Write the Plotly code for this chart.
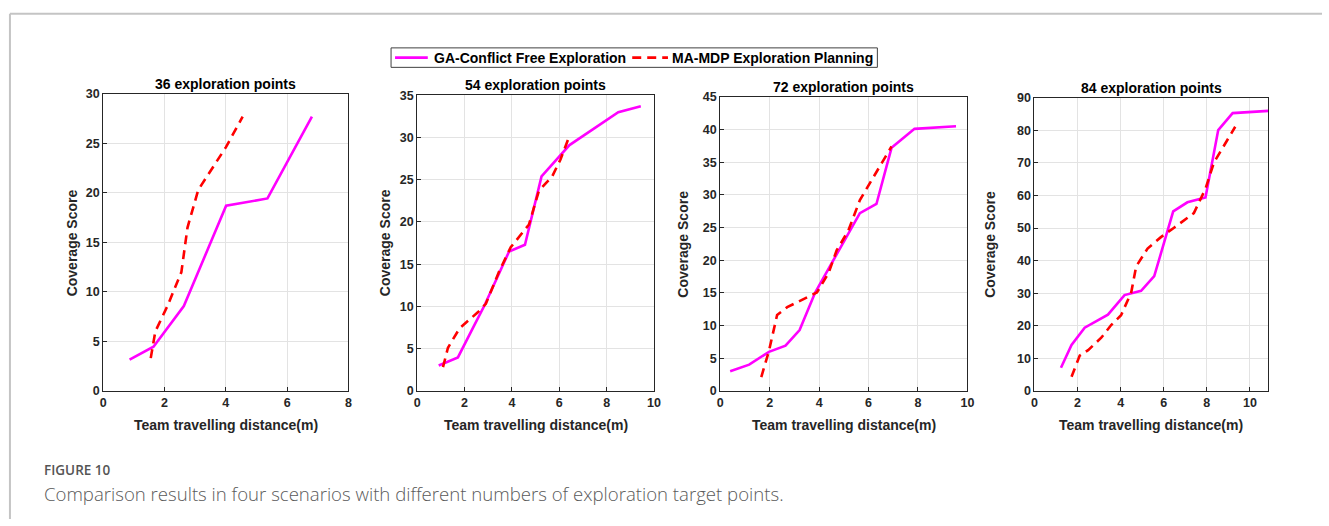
import plotly.graph_objects as go

# ---- data: team travelling distance (m) vs coverage score ----
titles = ["36 exploration points", "54 exploration points",
          "72 exploration points", "84 exploration points"]
series_names = ["GA-Conflict Free Exploration", "MA-MDP Exploration Planning"]

ga_x_36 = [0.86, 1.64, 2.63, 4.01, 5.36, 6.81]
ga_y_36 = [3.15, 4.46, 8.56, 18.7, 19.44, 27.7]
mdp_x_36 = [1.55, 1.7, 2.1, 2.55, 2.75, 3.1, 4.0, 4.55]
mdp_y_36 = [3.3, 6.0, 8.6, 12.0, 16.5, 20.3, 24.6, 27.7]

ga_x_54 = [0.91, 1.25, 1.72, 2.42, 2.84, 3.88, 4.55, 5.25, 6.43, 8.49, 9.44]
ga_y_54 = [3.0, 3.4, 3.96, 7.8, 10.1, 16.5, 17.3, 25.4, 29.1, 33.0, 33.7]
mdp_x_54 = [1.09, 1.3, 1.79, 2.56, 2.9, 3.47, 3.95, 4.72, 5.14, 5.7, 6.05, 6.43]
mdp_y_54 = [2.8, 5.1, 7.4, 9.3, 10.3, 14.2, 17.0, 19.7, 23.7, 25.4, 27.4, 30.2]

ga_x_72 = [0.4, 1.17, 1.97, 2.64, 3.21, 3.84, 5.65, 6.32, 6.93, 7.86, 9.54]
ga_y_72 = [3.0, 4.0, 5.96, 6.9, 9.3, 15.05, 27.2, 28.6, 37.2, 40.1, 40.5]
mdp_x_72 = [1.66, 1.97, 2.3, 2.71, 3.91, 4.38, 4.71, 5.18, 5.65, 6.93]
mdp_y_72 = [2.1, 6.1, 11.6, 12.8, 15.05, 18.0, 21.5, 24.5, 29.2, 37.4]

ga_x_84 = [1.23, 1.72, 2.33, 3.41, 4.18, 4.95, 5.56, 6.44, 7.1, 7.94, 8.53, 9.2, 10.86]
ga_y_84 = [7.1, 14.06, 19.4, 23.4, 29.4, 30.7, 35.2, 55.1, 57.9, 59.4, 80.1, 85.3, 86.0]
mdp_x_84 = [1.72, 2.1, 2.49, 3.1, 3.56, 4.02, 4.49, 4.72, 5.25, 5.87, 6.48, 7.4, 7.94, 8.33, 9.32]
mdp_y_84 = [4.3, 10.8, 12.5, 16.3, 20.2, 23.2, 30.2, 38.2, 43.7, 47.2, 50.1, 54.6, 62.1, 70.1, 81.1]

ga_x = [ga_x_36, ga_x_54, ga_x_72, ga_x_84]
ga_y = [ga_y_36, ga_y_54, ga_y_72, ga_y_84]
mdp_x = [mdp_x_36, mdp_x_54, mdp_x_72, mdp_x_84]
mdp_y = [mdp_y_36, mdp_y_54, mdp_y_72, mdp_y_84]

x_ranges = [[0, 8], [0, 10], [0, 10], [0, 10.86]]
y_ranges = [[0, 30], [0, 35], [0, 45], [0, 90]]
y_dticks = [5, 5, 5, 10]

# ---- page geometry (pixels) ----
W, H = 1329, 526


def xp(px):
    return px / W


def yp(py):
    return 1 - py / H


panel_px = [  # left, right, top, bottom
    (101, 348, 89.3, 394.3),
    (417.3, 656, 90.7, 394.3),
    (722.7, 971.7, 92.3, 394.3),
    (1039.3, 1275, 93.3, 394.3),
]
ylabel_x = [69.5, 385, 685, 995]

FONT = "Liberation Sans, Arial, sans-serif"
TXT = "#262626"
GA_COLOR = "#ff00ff"
MDP_COLOR = "#ff0000"
LINE_W = 2.6
DASH = "9px,6px"

fig = go.Figure()

for i in range(4):
    xa = "x" if i == 0 else f"x{i+1}"
    ya = "y" if i == 0 else f"y{i+1}"
    fig.add_trace(go.Scatter(
        x=ga_x[i], y=ga_y[i], mode="lines", xaxis=xa, yaxis=ya,
        name=series_names[0], showlegend=False,
        line=dict(color=GA_COLOR, width=LINE_W)))
    fig.add_trace(go.Scatter(
        x=mdp_x[i], y=mdp_y[i], mode="lines", xaxis=xa, yaxis=ya,
        name=series_names[1], showlegend=False,
        line=dict(color=MDP_COLOR, width=LINE_W, dash=DASH)))

layout = dict(
    width=W, height=H,
    margin=dict(l=0, r=0, t=0, b=0),
    paper_bgcolor="white", plot_bgcolor="white",
    showlegend=False,
)

annotations = []
shapes = []
for i, (l, r, t, b) in enumerate(panel_px):
    sx = "" if i == 0 else str(i + 1)
    axis_common = dict(
        showline=True, linecolor=TXT, linewidth=1, mirror=True,
        showgrid=True, gridcolor="#e3e3e3", gridwidth=1,
        ticks="inside", ticklen=4, tickcolor=TXT, zeroline=False,
        tickfont=dict(family=FONT, size=12.5, color=TXT, weight="bold"),
    )
    layout[f"xaxis{sx}"] = dict(
        axis_common, domain=[xp(l), xp(r)], range=x_ranges[i],
        dtick=2, tick0=0, anchor=f"y{sx}")
    layout[f"yaxis{sx}"] = dict(
        axis_common, domain=[yp(b), yp(t)], range=y_ranges[i],
        dtick=y_dticks[i], tick0=0, anchor=f"x{sx}")
    cx = (l + r) / 2
    annotations.append(dict(
        text=titles[i], x=xp(cx), y=yp(t - 10.5), xref="paper", yref="paper",
        xanchor="center", yanchor="middle", showarrow=False,
        font=dict(family=FONT, size=14, color="#000000", weight="bold")))
    annotations.append(dict(
        text="Team travelling distance(m)", x=xp(cx), y=yp(429.5),
        xref="paper", yref="paper", xanchor="center", yanchor="middle",
        showarrow=False, font=dict(family=FONT, size=14, color=TXT, weight="bold")))
    annotations.append(dict(
        text="Coverage Score", x=xp(ylabel_x[i]), y=yp((t + b) / 2),
        xref="paper", yref="paper", xanchor="center", yanchor="middle",
        textangle=-90, showarrow=False,
        font=dict(family=FONT, size=14, color=TXT, weight="bold")))

# ---- shared legend box above the panels ----
LEG_L, LEG_R, LEG_T, LEG_B = 391, 881, 42, 62
leg_mid = (LEG_T + LEG_B) / 2
shapes.append(dict(type="rect", xref="paper", yref="paper",
                   x0=xp(LEG_L), x1=xp(LEG_R), y0=yp(LEG_B), y1=yp(LEG_T),
                   line=dict(color="#404040", width=1), fillcolor="white"))
legend_items = [  # sample start, sample end, text start, colour, dash
    (395, 428, 432, GA_COLOR, "solid"),
    (634, 670, 672, MDP_COLOR, DASH),
]
for name, (s0, s1, tx, col, dash) in zip(series_names, legend_items):
    shapes.append(dict(type="line", xref="paper", yref="paper",
                       x0=xp(s0), x1=xp(s1), y0=yp(leg_mid), y1=yp(leg_mid),
                       line=dict(color=col, width=LINE_W, dash=dash)))
    annotations.append(dict(
        text=name, x=xp(tx), y=yp(leg_mid), xref="paper", yref="paper",
        xanchor="left", yanchor="middle", showarrow=False,
        font=dict(family=FONT, size=14, color="#000000", weight="bold")))

# ---- caption ----
annotations.append(dict(
    text="FIGURE 10", x=xp(40), y=yp(486), xref="paper", yref="paper",
    xanchor="left", yanchor="bottom", showarrow=False, borderpad=0,
    font=dict(family="Open Sans, sans-serif", size=13.5, color="#555555", weight=600)))
annotations.append(dict(
    text="Comparison results in four scenarios with different numbers of exploration target points.",
    x=xp(40), y=yp(486), xref="paper", yref="paper",
    xanchor="left", yanchor="top", showarrow=False, borderpad=0,
    font=dict(family="Open Sans, sans-serif", size=18.6, color="#5a5a5a", weight=300)))

# frame lines along the top and left of the page
shapes.append(dict(type="line", xref="paper", yref="paper",
                   x0=xp(7), x1=1, y0=yp(7), y1=yp(7),
                   line=dict(color="#c4c4c4", width=2)))
shapes.append(dict(type="line", xref="paper", yref="paper",
                   x0=xp(7), x1=xp(7), y0=yp(7), y1=0,
                   line=dict(color="#c4c4c4", width=2)))

layout["annotations"] = annotations
layout["shapes"] = shapes
fig.update_layout(**layout)

fig.write_html("out.html")
